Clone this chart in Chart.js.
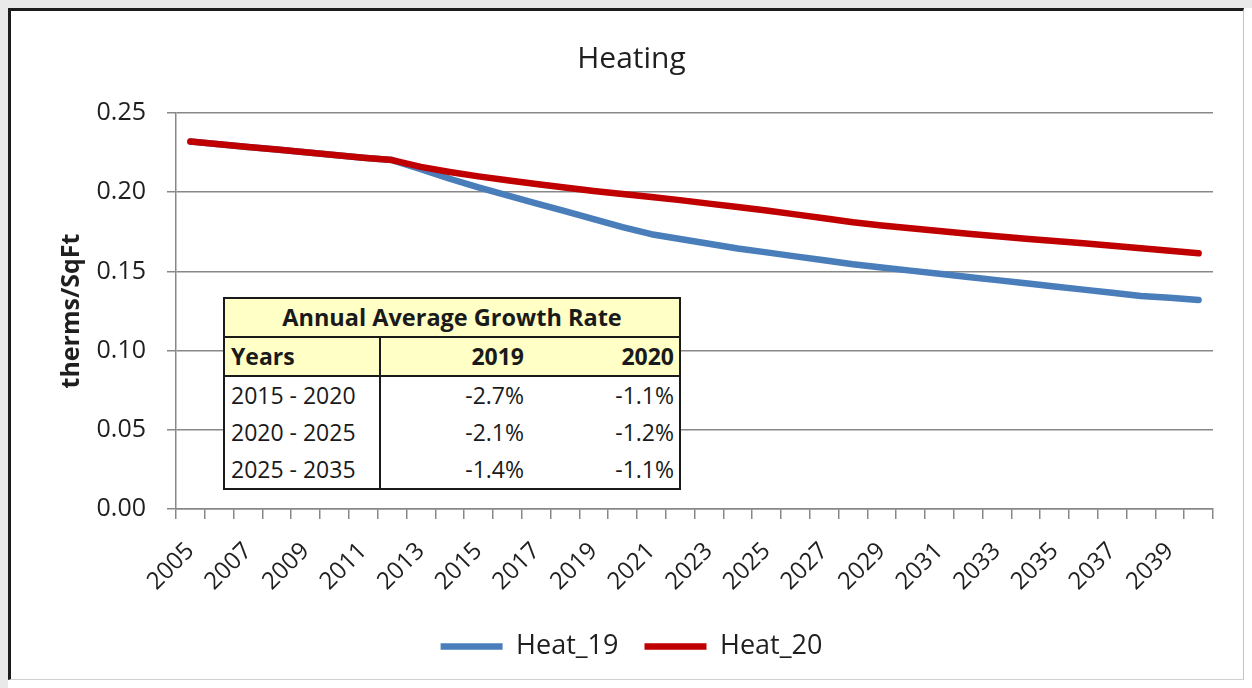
<!DOCTYPE html>
<html>
<head>
<meta charset="utf-8">
<script src="https://cdn.jsdelivr.net/npm/chart.js@4.4.0/dist/chart.umd.min.js"></script>
<style>
  html, body { margin: 0; padding: 0; background: #ffffff; }
  #page { position: relative; width: 1252px; height: 688px; overflow: hidden; background: #ffffff; }
  .strip { position: absolute; background: #e9e9e9; }
  #frame { position: absolute; left: 8px; top: 8px; width: 1232px; height: 668px;
           border-left: 3px solid #1c1c1c; border-top: 3px solid #1c1c1c;
           border-right: 1px solid #c4c4c4; border-bottom: 1px solid #d0d0d0; background: #ffffff; }
  #chart { position: absolute; left: 0; top: 0; }
  #growth { position: absolute; left: 223px; top: 297px; border-collapse: collapse;
            font-family: "Open Sans", sans-serif; font-size: 23px; color: #1a1a1a;
            border: 2px solid #1a1a1a; background: #ffffff; }
  #growth td { padding: 0 6px; height: 37px; line-height: 37px; white-space: nowrap; }
  #growth .head td { background: #ffffc6; font-weight: bold; }
  #growth .title td { text-align: center; border-bottom: 2px solid #1a1a1a; font-size: 23.5px; }
  #growth .cols td { border-bottom: 2px solid #1a1a1a; }
  #growth td.c1 { width: 142px; border-right: 2px solid #1a1a1a; text-align: left; }
  #growth td.c2 { width: 137px; text-align: right; }
  #growth td.c3 { width: 138px; text-align: right; padding-right: 5px; }
</style>
</head>
<body>
<div id="page">
  <div class="strip" style="left:0;top:0;width:1252px;height:8px"></div>
  <div class="strip" style="left:0;top:0;width:8px;height:688px"></div>
  <div id="frame"></div>
  <canvas id="chart" width="1252" height="688"></canvas>
  <table id="growth"></table>
</div>
<script>
// Years on the category axis
const years = ['2005','2006','2007','2008','2009','2010','2011','2012','2013','2014',
               '2015','2016','2017','2018','2019','2020','2021','2022','2023','2024',
               '2025','2026','2027','2028','2029','2030','2031','2032','2033','2034',
               '2035','2036','2037','2038','2039','2040'];

// Heating intensity, therms per square foot
const heat19 = [0.2320,0.2303,0.2286,0.2269,0.2252,0.2235,0.2218,0.2203,0.2145,0.2085,
                0.2030,0.1980,0.1930,0.1880,0.1830,0.1780,0.1735,0.1705,0.1675,0.1645,
                0.1620,0.1595,0.1570,0.1545,0.1525,0.1505,0.1485,0.1465,0.1445,0.1425,
                0.1405,0.1385,0.1365,0.1345,0.1333,0.1320];
const heat20 = [0.2320,0.2303,0.2286,0.2269,0.2252,0.2235,0.2218,0.2203,0.2160,0.2128,
                0.2100,0.2075,0.2052,0.2030,0.2008,0.1988,0.1970,0.1950,0.1928,0.1906,
                0.1885,0.1860,0.1835,0.1810,0.1790,0.1772,0.1755,0.1738,0.1722,0.1706,
                0.1692,0.1677,0.1662,0.1646,0.1630,0.1614];

// Value axis ticks
const yTicks = [0.00, 0.05, 0.10, 0.15, 0.20, 0.25];

// Growth-rate summary table
const growthTitle = 'Annual Average Growth Rate';
const growthHeader = ['Years', '2019', '2020'];
const growthPeriods = ['2015 - 2020', '2020 - 2025', '2025 - 2035'];
const growth19 = ['-2.7%', '-2.1%', '-1.4%'];
const growth20 = ['-1.1%', '-1.2%', '-1.1%'];

// build the summary table
(function () {
  const t = document.getElementById('growth');
  let html = '<tr class="head title"><td colspan="3">' + growthTitle + '</td></tr>';
  html += '<tr class="head cols"><td class="c1">' + growthHeader[0] + '</td><td class="c2">' +
          growthHeader[1] + '</td><td class="c3">' + growthHeader[2] + '</td></tr>';
  growthPeriods.forEach((p, i) => {
    html += '<tr><td class="c1">' + p + '</td><td class="c2">' + growth19[i] +
            '</td><td class="c3">' + growth20[i] + '</td></tr>';
  });
  t.innerHTML = html;
})();

const FONT = '"Open Sans", sans-serif';
const INK = '#1f1f1f';
const GRID = '#888888';

new Chart(document.getElementById('chart'), {
  type: 'line',
  data: {
    labels: years,
    datasets: [
      { label: 'Heat_19', data: heat19, borderColor: '#4a7ebb', backgroundColor: '#4a7ebb',
        borderWidth: 6.5, pointRadius: 0, tension: 0, borderCapStyle: 'round',
        borderJoinStyle: 'round', order: 1 },
      { label: 'Heat_20', data: heat20, borderColor: '#c00000', backgroundColor: '#c00000',
        borderWidth: 6.5, pointRadius: 0, tension: 0, borderCapStyle: 'round',
        borderJoinStyle: 'round', order: 0 }
    ]
  },
  options: {
    responsive: false,
    animation: false,
    layout: { padding: { left: 50, right: 39, top: 0, bottom: 18 } },
    plugins: {
      title: {
        display: true, text: 'Heating', color: INK,
        font: { family: FONT, size: 30, weight: 'normal' },
        padding: { top: 41, bottom: 36 }
      },
      legend: {
        position: 'bottom',
        labels: {
          color: INK, font: { family: FONT, size: 27 },
          usePointStyle: true, pointStyle: 'line', pointStyleWidth: 62,
          padding: 26,
          sort: (a, b) => a.datasetIndex - b.datasetIndex
        }
      },
      tooltip: { enabled: false }
    },
    scales: {
      x: {
        offset: true,
        grid: { display: true, drawOnChartArea: false, drawTicks: true, offset: true,
                color: GRID, lineWidth: 1.5, tickLength: 10 },
        border: { color: GRID, width: 1.5 },
        ticks: {
          autoSkip: false, maxRotation: 45, minRotation: 45, padding: 18,
          color: INK, font: { family: FONT, size: 24 },
          callback: (v, i) => (i % 2 === 0 ? years[i] : '')
        },
        afterFit: (s) => { s.height = 98; }
      },
      y: {
        min: 0, max: 0.25,
        afterBuildTicks: (s) => { s.ticks = yTicks.map(v => ({ value: v })); },
        grid: { color: GRID, lineWidth: 1.5, tickLength: 9 },
        border: { color: GRID, width: 1.5 },
        ticks: { padding: 21, color: INK, font: { family: FONT, size: 25 },
                 callback: (v) => Number(v).toFixed(2) },
        title: { display: true, text: 'therms/SqFt', color: INK,
                 font: { family: FONT, size: 25, weight: 'bold' },
                 padding: { top: 7, bottom: 0 } },
        afterFit: (s) => { s.width = 126; }
      }
    }
  }
});
</script>
</body>
</html>
